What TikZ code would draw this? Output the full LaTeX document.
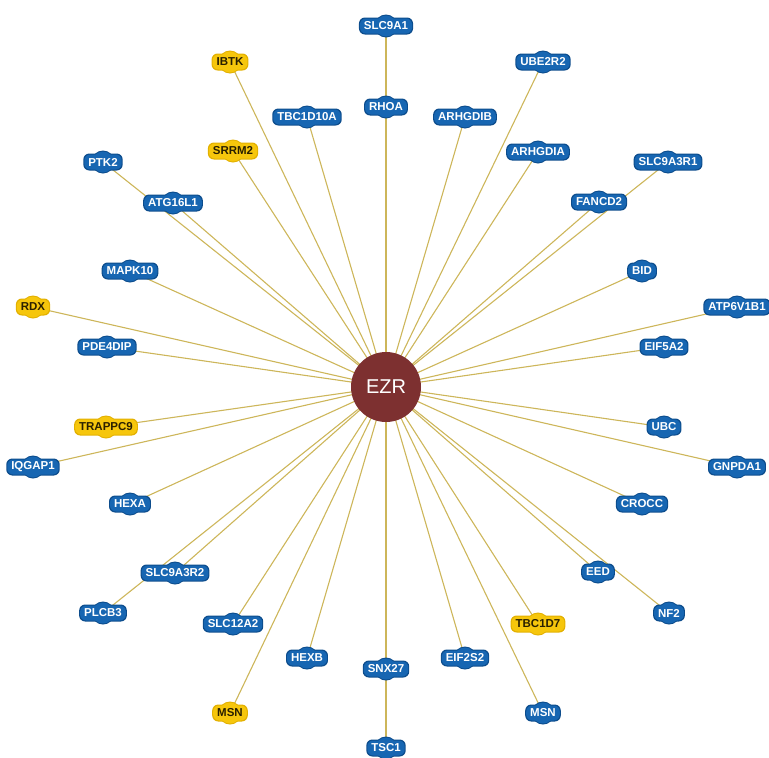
\documentclass[tikz,border=0pt]{standalone}
\usepackage{fontspec}
\setmainfont{Liberation Sans}
\pgfdeclarelayer{bg}
\pgfsetlayers{bg,main}
\definecolor{BF}{HTML}{1766B2}
\definecolor{BD}{HTML}{0C4C8C}
\definecolor{BT}{HTML}{FFFFFF}
\definecolor{YF}{HTML}{F6C60C}
\definecolor{YD}{HTML}{E2B000}
\definecolor{YT}{HTML}{2A2000}
\definecolor{edgecol}{HTML}{CDB65A}
\definecolor{hubcol}{HTML}{7D3030}
\tikzset{
  gbox/.style={rectangle,rounded corners=6pt,inner xsep=4pt,inner ysep=1pt,minimum height=15pt,
    font=\fontsize{11.5}{11.5}\selectfont\bfseries},
  gbump/.style={circle,inner sep=0pt},
  hub/.style={circle,fill=hubcol,minimum size=70pt,inner sep=0pt,text=white,font=\fontsize{20}{20}\selectfont},
  edge/.style={draw=edgecol,line width=1.1pt}
}
\newcommand\genenode[5]{%
  \node[gbump,fill=#5D,minimum size=23pt] at (#2,#3) {};
  \node[gbox,fill=#5D,inner xsep=5pt,minimum height=17pt] at (#2,#3) {\phantom{#4}};
  \node[gbump,fill=#5F,minimum size=21pt] at (#2,#3) {};
  \node[gbox,fill=#5F,text=#5T] (#1) at (#2,#3) {#4};
}
\begin{document}
\begin{tikzpicture}[x=1pt,y=-1pt]
\useasboundingbox (0,0) rectangle (769,758);
\node[hub] (EZR) at (386,387) {EZR};
\genenode{SLCnineAone}{386}{26}{SLC9A1}{B}
\genenode{IBTK}{230}{62}{IBTK}{Y}
\genenode{UBEtwoRtwo}{543}{62}{UBE2R2}{B}
\genenode{RHOA}{386}{107}{RHOA}{B}
\genenode{TBConeDtenA}{307}{117}{TBC1D10A}{B}
\genenode{ARHGDIB}{465}{117}{ARHGDIB}{B}
\genenode{SRRMtwo}{233}{151}{SRRM2}{Y}
\genenode{ARHGDIA}{538}{152}{ARHGDIA}{B}
\genenode{PTKtwo}{103}{162}{PTK2}{B}
\genenode{SLCnineAthreeRone}{668}{162}{SLC9A3R1}{B}
\genenode{ATG}{173}{203}{ATG16L1}{B}
\genenode{FANCDtwo}{599}{202}{FANCD2}{B}
\genenode{MAPKten}{130}{271}{MAPK10}{B}
\genenode{BID}{642}{271}{BID}{B}
\genenode{RDX}{33}{307}{RDX}{Y}
\genenode{ATP}{737}{307}{ATP6V1B1}{B}
\genenode{PDE}{107}{347}{PDE4DIP}{B}
\genenode{EIF}{664}{347}{EIF5A2}{B}
\genenode{TRAPPC}{106}{427}{TRAPPC9}{Y}
\genenode{UBC}{664}{427}{UBC}{B}
\genenode{IQGAP}{33}{467}{IQGAP1}{B}
\genenode{GNPDA}{737}{467}{GNPDA1}{B}
\genenode{HEXA}{130}{504}{HEXA}{B}
\genenode{CROCC}{642}{504}{CROCC}{B}
\genenode{SLCnineAthreeRtwo}{175}{573}{SLC9A3R2}{B}
\genenode{EED}{598}{572}{EED}{B}
\genenode{PLCB}{103}{613}{PLCB3}{B}
\genenode{NFtwo}{669}{613}{NF2}{B}
\genenode{SLCtwelve}{233}{624}{SLC12A2}{B}
\genenode{TBConeDseven}{538}{624}{TBC1D7}{Y}
\genenode{HEXB}{307}{658}{HEXB}{B}
\genenode{EIFtwoS}{465}{658}{EIF2S2}{B}
\genenode{SNX}{386}{669}{SNX27}{B}
\genenode{MSNl}{230}{713}{MSN}{Y}
\genenode{MSNr}{543}{713}{MSN}{B}
\genenode{TSC}{386}{748}{TSC1}{B}
\begin{pgfonlayer}{bg}
\foreach \n in {SLCnineAone,IBTK,UBEtwoRtwo,RHOA,TBConeDtenA,ARHGDIB,SRRMtwo,ARHGDIA,PTKtwo,
  SLCnineAthreeRone,ATG,FANCDtwo,MAPKten,BID,RDX,ATP,PDE,EIF,TRAPPC,UBC,IQGAP,GNPDA,HEXA,CROCC,
  SLCnineAthreeRtwo,EED,PLCB,NFtwo,SLCtwelve,TBConeDseven,HEXB,EIFtwoS,SNX,MSNl,MSNr,TSC}
  \draw[edge] (EZR.center) -- (\n.center);
\end{pgfonlayer}
\end{tikzpicture}
\end{document}
